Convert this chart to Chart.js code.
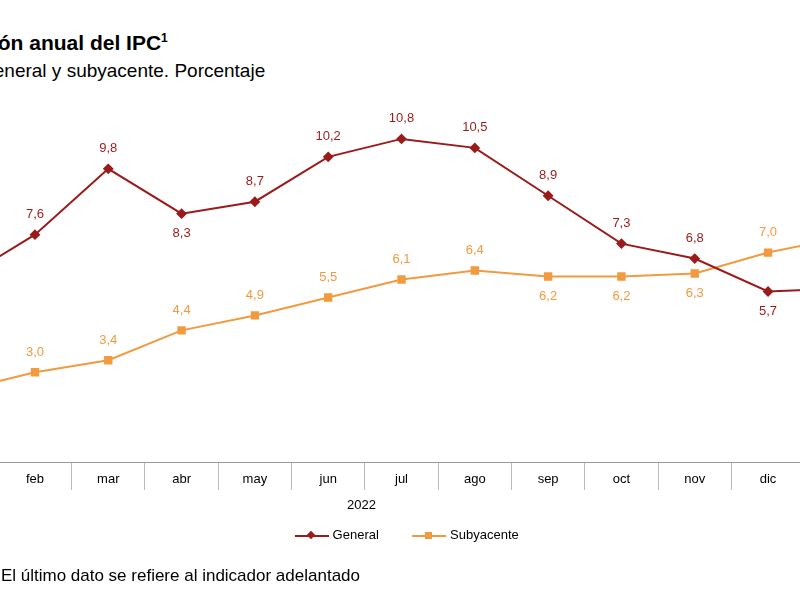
<!DOCTYPE html>
<html><head><meta charset="utf-8">
<script src="https://cdn.jsdelivr.net/npm/chart.js@4/dist/chart.umd.min.js"></script>
<style>
body{margin:0;width:800px;height:600px;overflow:hidden;background:#fff;font-family:Arial,"Liberation Sans",sans-serif;position:relative}
#wrap{position:absolute;left:-85px;top:0;width:970px;height:600px}
.t{position:absolute;white-space:nowrap;color:#000}
</style></head><body>
<div class="t" style="left:-70px;top:31px;font-size:21px;font-weight:bold">Variación anual del IPC<sup style="font-size:12px">1</sup></div>
<div class="t" style="left:-21px;top:60px;font-size:19px">General y subyacente. Porcentaje</div>
<div id="wrap"><canvas id="c" width="970" height="600"></canvas></div>
<div class="t" style="left:347px;top:497px;font-size:13px">2022</div>
<div class="t" style="left:295px;top:527px;font-size:13px">
<span style="display:inline-block;width:34px;height:2px;background:#9b1b1b;vertical-align:middle;position:relative"><span style="position:absolute;left:13px;top:-3px;width:6px;height:6px;background:#9b1b1b;transform:rotate(45deg)"></span></span> General
<span style="display:inline-block;width:34px;height:2px;background:#f29a3f;vertical-align:middle;margin-left:30px;position:relative"><span style="position:absolute;left:13px;top:-3px;width:7px;height:7px;background:#f29a3f"></span></span> Subyacente</div>
<div class="t" style="left:-18px;top:566px;font-size:17px">1. El último dato se refiere al indicador adelantado</div>
<script>
const categories = ["ene","feb","mar","abr","may","jun","jul","ago","sep","oct","nov","dic","ene"];
const general = [6.1,7.6,9.8,8.3,8.7,10.2,10.8,10.5,8.9,7.3,6.8,5.7,5.8];
const subyacente = [2.4,3.0,3.4,4.4,4.9,5.5,6.1,6.4,6.2,6.2,6.3,7.0,7.5];
const generalPos = ["a","a","a","b","a","a","a","a","a","a","a","b","b"];
const subPos = ["a","a","a","a","a","a","a","a","b","b","b","a","a"];

const labelsPlugin = {
  id: "vals",
  afterDatasetsDraw(chart) {
    const ctx = chart.ctx;
    ctx.save();
    ctx.font = "13px Arial, 'Liberation Sans'";
    ctx.textAlign = "center";
    ctx.textBaseline = "middle";
    chart.data.datasets.forEach((ds, i) => {
      const pos = i === 0 ? generalPos : subPos;
      chart.getDatasetMeta(i).data.forEach((p, j) => {
        ctx.fillStyle = ds.borderColor;
        const dy = pos[j] === "a" ? -20 : 20;
        ctx.fillText(ds.data[j].toFixed(1).replace(".", ","), p.x, p.y + dy);
      });
    });
    // category labels between the separators
    const xs = chart.scales.x;
    ctx.fillStyle = "#000";
    categories.forEach((c, j) => ctx.fillText(c, xs.getPixelForValue(j), chart.chartArea.bottom + 17));
    ctx.restore();
  }
};

new Chart(document.getElementById("c"), {
  type: "line",
  data: {
    labels: categories,
    datasets: [
      { label: "General", data: general, borderColor: "#9b1b1b", backgroundColor: "#9b1b1b",
        borderWidth: 2, pointStyle: "rectRot", pointRadius: 4, tension: 0 },
      { label: "Subyacente", data: subyacente, borderColor: "#f29a3f", backgroundColor: "#f29a3f",
        borderWidth: 2, pointStyle: "rect", pointRadius: 4.5, tension: 0 }
    ]
  },
  options: {
    responsive: false, animation: false,
    layout: { padding: { left: 10, right: 7, top: 103, bottom: 110 } },
    plugins: { legend: { display: false }, tooltip: { enabled: false } },
    scales: {
      x: {
        offset: true,
        grid: { offset: true, drawOnChartArea: false, tickLength: 28, color: "#bbb" },
        border: { color: "#999" },
        ticks: { display: false }
      },
      y: { display: false, min: 0, max: 12 }
    }
  },
  plugins: [labelsPlugin]
});
</script>
</body></html>
